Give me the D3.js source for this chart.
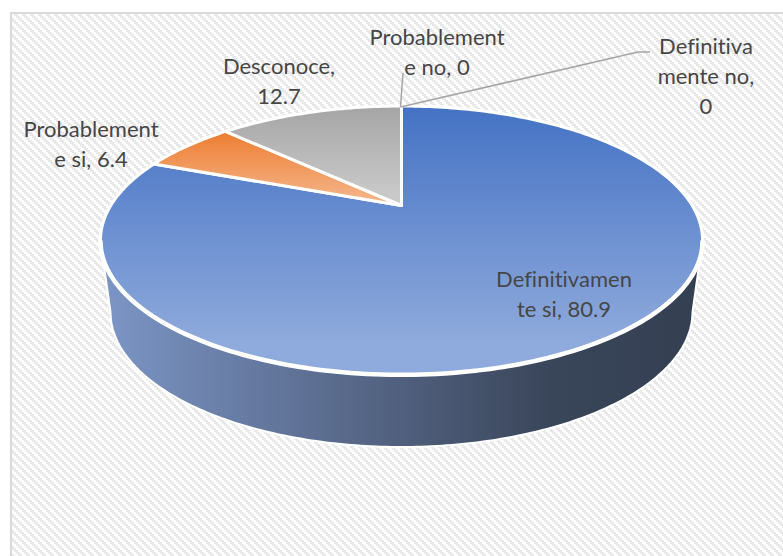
<!DOCTYPE html>
<html>
<head>
<meta charset="utf-8">
<script src="https://cdnjs.cloudflare.com/ajax/libs/d3/7.8.5/d3.min.js"></script>
<style>
  html, body { margin: 0; padding: 0; background: #fff; }
  svg { display: block; }
  text { font-family: Lato, "Open Sans", sans-serif; font-size: 22px; fill: #464646; text-anchor: middle; font-variant-ligatures: none; }
</style>
</head>
<body>
<svg id="chart" width="783" height="556"></svg>
<script>
const categories = ['Definitivamente si', 'Probablemente si', 'Desconoce', 'Probablemente no', 'Definitivamente no']
const values = [80.9, 6.4, 12.7, 0, 0]
const labelLines = [
  ['Definitivamen', 'te si, 80.9'],
  ['Probablement', 'e si, 6.4'],
  ['Desconoce,', '12.7'],
  ['Probablement', 'e no, 0'],
  ['Definitiva', 'mente no,', '0']
]
const sliceStart = ['#4472c4', '#ed7d31', '#a5a5a5']
const sliceEnd = ['#8faadc', '#f4b183', '#c9c9c9']

// donde va cada etiqueta (centro de la primera linea)
const labelX = [564, 91, 279, 437, 706]
const labelY = [287, 137, 74, 45, 53.5]

const svg = d3.select('#chart')
const defs = svg.append('defs')

// fondo rayado, escalones de 2px como en la imagen
const hatch = defs.append('pattern')
  .attr('id', 'hatch')
  .attr('width', 8).attr('height', 8)
  .attr('patternUnits', 'userSpaceOnUse')
hatch.append('rect').attr('width', 8).attr('height', 8).attr('fill', '#fff')
d3.range(4).forEach(i => {
  d3.range(2).forEach(j => {
    hatch.append('rect')
      .attr('x', (2 * i + 2 * j) % 8).attr('y', 2 * i)
      .attr('width', 2).attr('height', 2)
      .attr('fill', '#e8e8e8')
      .attr('shape-rendering', 'crispEdges')
  })
})

svg.append('rect')
  .attr('x', 11).attr('y', 13)
  .attr('width', 790).attr('height', 560)
  .attr('fill', 'url(#hatch)')
  .attr('stroke', '#d9d9d9').attr('stroke-width', 2)

// perspectiva del disco: v va de -1 (atras) a 1 (frente)
const cx = 401.5
const persp = -0.26
const scaleU = d3.scaleLinear().domain([0, 1]).range([0, 290.7])
const scaleV = d3.scaleLinear().domain([0, 1]).range([205.5, 277.4])

function project (angle, r) {
  const u = r * Math.sin(angle)
  const v = -r * Math.cos(angle)
  const w = 1 + persp * v
  return [cx + scaleU(u) / w, scaleV(v) / w]
}

function arcPoints (a0, a1) {
  const n = Math.max(2, Math.ceil((a1 - a0) / 0.02))
  return d3.range(n + 1).map(i => project(a0 + (a1 - a0) * i / n, 1))
}

const line = d3.line()

// costado
const sideEllipse = { x: 401.5, y: 312, rx: 291, ry: 135 }
const sideGrad = defs.append('linearGradient')
  .attr('id', 'side').attr('gradientUnits', 'userSpaceOnUse')
  .attr('x1', 100).attr('x2', 703).attr('y1', 0).attr('y2', 0)
sideGrad.append('stop').attr('offset', 0).attr('stop-color', '#7c96c6')
sideGrad.append('stop').attr('offset', 0.5).attr('stop-color', '#505f7d')
sideGrad.append('stop').attr('offset', 0.75).attr('stop-color', '#394559')
sideGrad.append('stop').attr('offset', 1).attr('stop-color', '#343f52')

// el borde visible arranca donde el disco es mas ancho
const widest = Math.acos(persp)
const topRim = arcPoints(widest, 2 * Math.PI - widest)
const bottomRim = d3.range(0, 181).map(d => {
  const t = d * Math.PI / 180
  return [sideEllipse.x - sideEllipse.rx * Math.cos(t), sideEllipse.y + sideEllipse.ry * Math.sin(t)]
})
svg.append('path')
  .attr('d', line(topRim.concat(bottomRim)) + 'Z')
  .attr('fill', 'url(#side)')
  .attr('stroke', '#fff').attr('stroke-width', 2)

// rebanadas
const pie = d3.pie().sort(null).value(d => d)
const slices = pie(values)

slices.forEach((s, i) => {
  if (s.value === 0) return
  const pts = [project(0, 0)].concat(arcPoints(s.startAngle, s.endAngle))
  const ys = pts.map(p => p[1])
  const grad = defs.append('linearGradient')
    .attr('id', 'slice' + i).attr('gradientUnits', 'userSpaceOnUse')
    .attr('x1', 0).attr('x2', 0)
    .attr('y1', d3.min(ys)).attr('y2', d3.max(ys))
  grad.append('stop').attr('offset', 0).attr('stop-color', sliceStart[i])
  grad.append('stop').attr('offset', 0.88).attr('stop-color', sliceEnd[i])
  svg.append('path')
    .attr('d', line(pts) + 'Z')
    .attr('fill', 'url(#slice' + i + ')')
    .attr('stroke', '#fff').attr('stroke-width', 3)
    .attr('stroke-linejoin', 'round')
})

// filo blanco entre la cara de arriba y el costado
svg.append('path')
  .attr('d', line(topRim))
  .attr('fill', 'none')
  .attr('stroke', '#fff').attr('stroke-width', 4.5)

// lineas guia de las dos rebanadas en cero
const leaders = [
  { slice: 3, pts: [[403, 73], [400.5, 107]] },
  { slice: 4, pts: [[650, 52], [638, 52], [400.5, 107]] }
]
leaders.forEach(d => {
  svg.append('path')
    .attr('d', line(d.pts))
    .attr('fill', 'none')
    .attr('stroke', '#a6a6a6').attr('stroke-width', 1.5)
})

// etiquetas
labelLines.forEach((lines, i) => {
  const t = svg.append('text').attr('data-cat', categories[i])
  lines.forEach((l, j) => {
    t.append('tspan')
      .attr('x', labelX[i])
      .attr('y', labelY[i] + j * 30)
      .text(l)
  })
})
</script>
</body>
</html>
